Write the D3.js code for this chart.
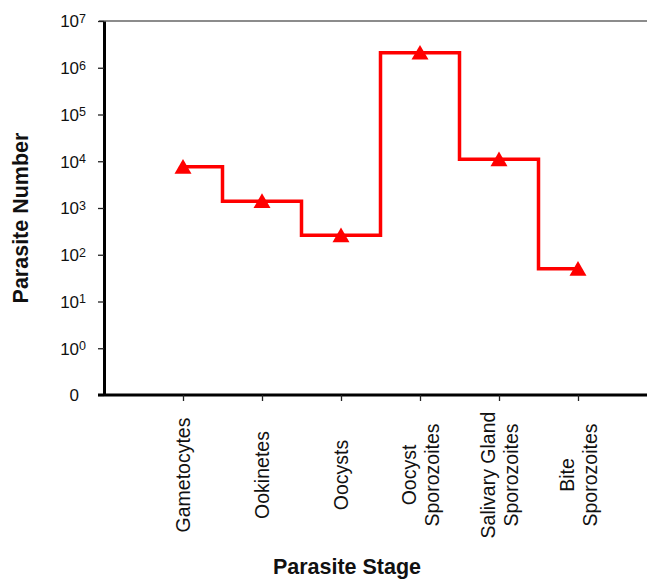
<!DOCTYPE html>
<html>
<head>
<meta charset="utf-8">
<script src="https://cdn.jsdelivr.net/npm/d3@7"></script>
<style>
  body { margin: 0; background: #fff; }
  text { font-family: "Liberation Sans", Arial, Helvetica, sans-serif; }
</style>
</head>
<body>
<div class="chart"></div>
<script>
// parasite stages (line breaks kept as separate strings)
const stages = [
  ['Gametocytes'],
  ['Ookinetes'],
  ['Oocysts'],
  ['Oocyst', 'Sporozoites'],
  ['Salivary Gland', 'Sporozoites'],
  ['Bite', 'Sporozoites']
];
const parasiteNumber = [7600, 1400, 260, 2100000, 11000, 50];
// bottom tick stands for "0" on the log axis
const yTicks = [0.1, 1, 10, 100, 1e3, 1e4, 1e5, 1e6, 1e7];

const width = 647, height = 580;
const mLeft = 104, mTop = 21, mBottom = 395, mRight = 647;

const svg = d3.select('.chart').append('svg')
  .attr('width', width).attr('height', height);

const keys = stages.map(s => s.join(' '));
const x = d3.scalePoint().domain(keys).range([183, 578]).padding(0);
const y = d3.scaleLog().domain([0.1, 1e7]).range([mBottom, mTop]);

// top border line
svg.append('line')
  .attr('x1', mLeft - 5).attr('x2', mRight)
  .attr('y1', mTop).attr('y2', mTop)
  .attr('stroke', '#666').attr('stroke-width', 1.5);

// y axis
const gy = svg.append('g')
  .attr('transform', 'translate(' + mLeft + ',0)')
  .call(d3.axisLeft(y).tickValues(yTicks).tickSize(6).tickPadding(12).tickSizeOuter(0));
gy.select('.domain').attr('stroke', '#000').attr('stroke-width', 3);
gy.selectAll('.tick line').attr('stroke', '#222').attr('stroke-width', 1.3);
gy.selectAll('.tick text')
  .attr('font-size', 17).attr('fill', '#111').attr('dy', '0.35em')
  .each(function (d) {
    const t = d3.select(this).text(null);
    if (d < 1) {
      t.attr('dx', -7).text('0');
    } else {
      t.append('tspan').text('10');
      t.append('tspan').attr('font-size', 12.5).attr('dy', -4.5)
        .text(Math.round(Math.log10(d)));
    }
  });

// x axis
const gx = svg.append('g')
  .attr('transform', 'translate(0,' + mBottom + ')')
  .call(d3.axisBottom(x).tickSize(6).tickSizeOuter(0).tickFormat(''));
gx.select('.domain').attr('d', 'M' + (mLeft - 6) + ',0H' + mRight)
  .attr('stroke', '#000').attr('stroke-width', 3);
gx.selectAll('.tick line').attr('stroke', '#222').attr('stroke-width', 1.3);

// rotated category labels
const lab = svg.selectAll('g.xlab')
  .data(stages)
  .enter()
  .append('g')
  .attr('class', 'xlab')
  .attr('transform', d => 'translate(' + x(d.join(' ')) + ',475) rotate(-90)');
lab.append('text')
  .attr('text-anchor', 'middle')
  .attr('font-size', 19.5)
  .attr('fill', '#111')
  .each(function (d) {
    const t = d3.select(this);
    d.forEach((line, i) => {
      t.append('tspan')
        .attr('x', 0)
        .attr('y', 7 + (i - (d.length - 1) / 2) * 23)
        .text(line);
    });
  });

// step line
const line = d3.line()
  .curve(d3.curveStep)
  .x((d, i) => x(keys[i]))
  .y(d => y(d));
svg.append('path')
  .datum(parasiteNumber)
  .attr('d', line)
  .attr('fill', 'none')
  .attr('stroke', '#f00')
  .attr('stroke-width', 3.5)
  .attr('stroke-linejoin', 'miter');

// triangle markers
svg.selectAll('path.marker')
  .data(parasiteNumber)
  .enter()
  .append('path')
  .attr('class', 'marker')
  .attr('d', d3.symbol().type(d3.symbolTriangle).size(125))
  .attr('transform', (d, i) => 'translate(' + x(keys[i]) + ',' + (y(d) + 2) + ')')
  .attr('fill', '#f00');

// axis titles
svg.append('text')
  .attr('transform', 'translate(28,218) rotate(-90)')
  .attr('text-anchor', 'middle')
  .attr('font-size', 21.5).attr('font-weight', 'bold').attr('fill', '#111')
  .text('Parasite Number');
svg.append('text')
  .attr('x', 347).attr('y', 574)
  .attr('text-anchor', 'middle')
  .attr('font-size', 21.5).attr('font-weight', 'bold').attr('fill', '#111')
  .text('Parasite Stage');
</script>
</body>
</html>
